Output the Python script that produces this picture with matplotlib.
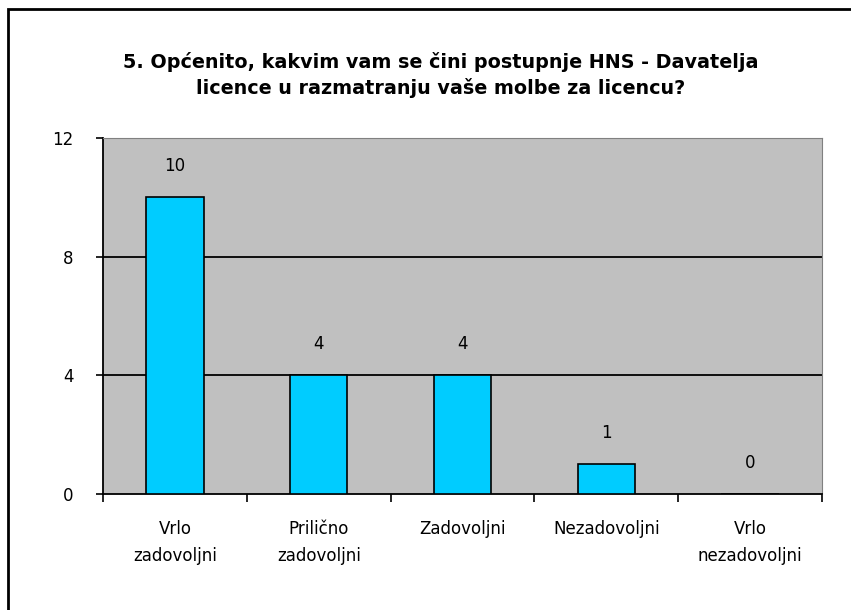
import numpy as np
import matplotlib.pyplot as plt
from matplotlib.patches import Rectangle

# data
categories = ['Vrlo\nzadovoljni', 'Prilično\nzadovoljni', 'Zadovoljni',
              'Nezadovoljni', 'Vrlo\nnezadovoljni']
counts = [10, 4, 4, 1, 0]
yticks = [0, 4, 8, 12]
title = ('5. Općenito, kakvim vam se čini postupnje HNS - Davatelja\n'
         'licence u razmatranju vaše molbe za licencu?')

fig = plt.figure(figsize=(8.51, 6.10), dpi=100)
ax = fig.add_axes([103/851, 1 - 494/610, 719/851, 356/610])

x = np.arange(len(counts))
ax.set_facecolor('#C0C0C0')
ax.bar(x, counts, width=0.4, color='#00CCFF', edgecolor='black', linewidth=1.2, zorder=3)

for xi, v in zip(x, counts):
    ax.annotate(str(v), (xi, v), xytext=(0, 16), textcoords='offset points',
                ha='center', va='bottom', fontsize=12)

ax.set_xlim(-0.5, len(counts) - 0.5)
ax.set_ylim(0, 12)
ax.set_yticks(yticks)
ax.set_yticklabels([str(t) for t in yticks], fontsize=12)
ax.tick_params(axis='y', length=5, width=1.2, pad=16, direction='out')

# category labels centred, ticks on the boundaries
ax.set_xticks(np.arange(len(counts) + 1) - 0.5)
ax.set_xticklabels([])
ax.set_xticks(x, minor=True)
ax.set_xticklabels(categories, minor=True, fontsize=12, linespacing=1.6)
ax.tick_params(axis='x', which='major', length=6, width=1.2, direction='out')
ax.tick_params(axis='x', which='minor', length=0, pad=19)

for t in yticks[1:-1]:
    ax.axhline(t, color='black', linewidth=1.3, zorder=1)

ax.spines['left'].set_color('black')
ax.spines['bottom'].set_color('black')
ax.spines['left'].set_linewidth(1.3)
ax.spines['bottom'].set_linewidth(1.3)
ax.spines['top'].set_color('#808080')
ax.spines['right'].set_color('#808080')

fig.text(0.518, 1 - 75/610, title, ha='center', va='center',
         fontsize=13.8, fontweight='bold', linespacing=1.35)

# outer chart frame (only left and top visible in reference)
fig.patches.append(Rectangle((8/851, -0.1), 1.2, 1 - 9/610 + 0.1,
                             transform=fig.transFigure, fill=False,
                             edgecolor='black', linewidth=2))

fig.savefig('out.png', dpi=100)
